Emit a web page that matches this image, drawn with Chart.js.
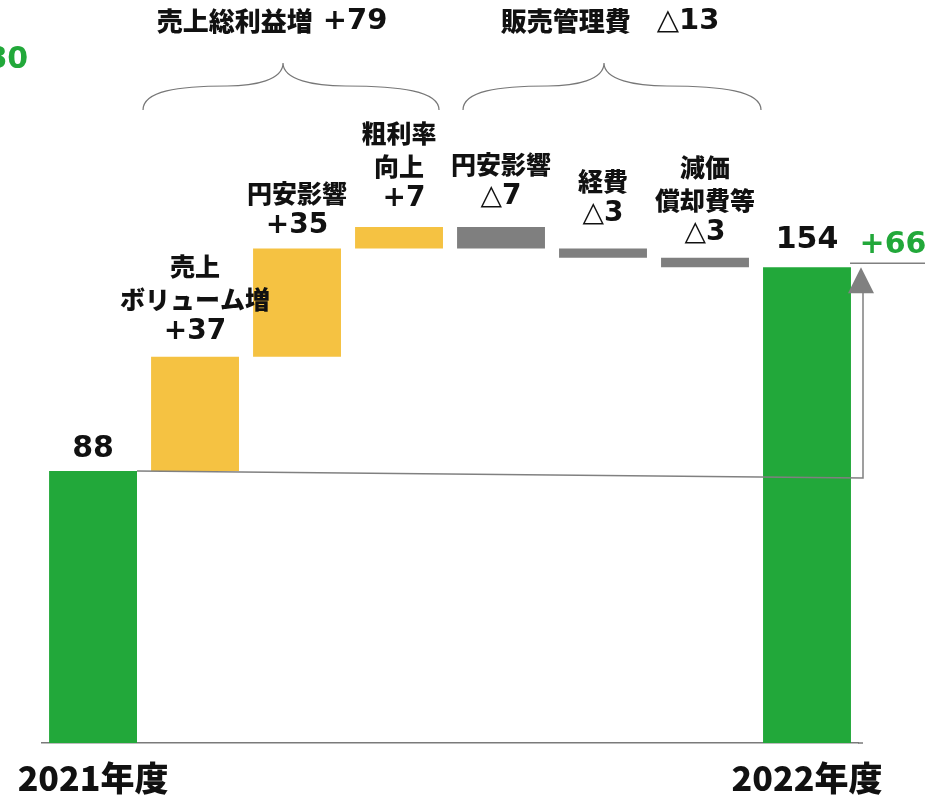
<!DOCTYPE html>
<html lang="ja">
<head>
<meta charset="utf-8"/>
<title>営業利益 増減要因</title>
<style>
  body { margin: 0; padding: 0; background: #fff; }
  #wrap { width: 929px; height: 797px; }
  canvas { display: block; }
</style>
</head>
<body>
<div id="wrap"><canvas id="chart" width="929" height="797"></canvas></div>
<script src="https://cdn.jsdelivr.net/npm/chart.js"></script>
<script>
// 値（億円）
const yearLabels = ["2021年度", "", "", "", "", "", "", "2022年度"];
const startValue = 88;
const endValue = 154;
const stepChanges = [37, 35, 7, -7, -3, -3];
const stepLabels = [
  ["売上", "ボリューム増", "+37"],
  ["円安影響", "+35"],
  ["粗利率", "向上", " +7"],
  ["円安影響", "△7"],
  ["経費", "△3"],
  ["減価", "償却費等", "△3"]
];
const groupTitles = ["売上総利益増 +79", "販売管理費　△13"];
const groupSpans = [[1, 3], [4, 6]];
const totalChange = "+66";
const cutNote = "+80";

const GREEN = "#22a83a", YELLOW = "#f5c242", GRAY = "#7f7f7f";

// 浮動バー（積み上げ）
let level = startValue;
const ranges = [[0, startValue]];
stepChanges.forEach(d => { ranges.push([level, level + d]); level += d; });
ranges.push([0, endValue]);
const barColors = ranges.map((r, i) =>
  (i === 0 || i === ranges.length - 1) ? GREEN : (r[1] > r[0] ? YELLOW : GRAY));

// 和文と数字でフォントを分けて中央揃えで描く
const runRe = /[\u3000-\u9fff\uff00-\uffef]+|[^\u3000-\u9fff\uff00-\uffef]+/g;
function drawMixed(ctx, t, cx, cy, jpSize, numSize) {
  const runs = t.match(runRe).map(s => ({
    s,
    font: /[\u3000-\u9fff\uff00-\uffef]/.test(s)
      ? `900 ${jpSize}px "Noto Sans CJK JP"`
      : `bold ${numSize}px "DejaVu Sans", "Noto Sans CJK JP"`
  }));
  let total = 0;
  runs.forEach(r => { ctx.font = r.font; r.w = ctx.measureText(r.s).width; total += r.w; });
  let x = cx - total / 2;
  ctx.textAlign = "left";
  runs.forEach(r => { ctx.font = r.font; ctx.fillText(r.s, x, cy); x += r.w; });
}

function drawBrace(ctx, l, r, tip, yTop, yBot) {
  const yMid = yTop + 23;
  const lw = tip - l, rw = r - tip;
  ctx.beginPath();
  ctx.moveTo(l, yBot);
  ctx.bezierCurveTo(l, yMid + 5, l + lw * 0.25, yMid, l + lw * 0.6, yMid);
  ctx.bezierCurveTo(tip - lw * 0.2, yMid, tip, yMid - 6, tip, yTop);
  ctx.bezierCurveTo(tip, yMid - 6, tip + rw * 0.2, yMid, r - rw * 0.6, yMid);
  ctx.bezierCurveTo(r - rw * 0.25, yMid, r, yMid + 5, r, yBot);
  ctx.stroke();
}

const annotations = {
  id: "annotations",
  afterDatasetsDraw(chart) {
    const ctx = chart.ctx;
    const meta = chart.getDatasetMeta(0);
    const xs = chart.scales.x, ys = chart.scales.y;
    const last = meta.data.length - 1;
    const labelGaps = [22, 25, 23, 28, 30, 35, 25, 27];
    ctx.save();
    ctx.textBaseline = "middle";

    // バー上のラベル
    meta.data.forEach((bar, i) => {
      const top = Math.min(bar.y, bar.base);
      ctx.fillStyle = "#111";
      if (i === 0 || i === last) {
        ctx.textAlign = "center";
        ctx.font = 'bold 30px "DejaVu Sans"';
        ctx.fillText(String(i === 0 ? startValue : endValue), bar.x, top - labelGaps[i]);
        return;
      }
      const lines = stepLabels[i - 1];
      lines.forEach((t, k) => {
        drawMixed(ctx, t, bar.x, top - labelGaps[i] - (lines.length - 1 - k) * 32.5, 25, 28);
      });
    });

    // 中括弧とグループ見出し
    const braceOffsets = [[-52, 40], [-38, 56]];
    const titleShift = [-11, 6];
    ctx.strokeStyle = "#777";
    ctx.lineWidth = 1.2;
    groupSpans.forEach((s, g) => {
      const l = xs.getPixelForValue(s[0]) + braceOffsets[g][0];
      const r = xs.getPixelForValue(s[1]) + braceOffsets[g][1];
      const tip = (l + r) / 2 - 8;
      drawBrace(ctx, l, r, tip, 63, 110);
      ctx.fillStyle = "#111";
      drawMixed(ctx, groupTitles[g], tip + titleShift[g], 21, 26, 29);
    });

    // 2021→2022 の増加矢印
    const b0 = meta.data[0];
    const x0 = b0.x + b0.width / 2;
    const xr = chart.chartArea.right + 5;
    const yStart = ys.getPixelForValue(startValue);
    const yEnd = ys.getPixelForValue(endValue);
    ctx.strokeStyle = "#808080";
    ctx.fillStyle = "#808080";
    ctx.lineWidth = 1.5;
    ctx.beginPath();
    ctx.moveTo(x0, yStart);
    ctx.lineTo(xr, yStart + 7);
    ctx.lineTo(xr, yEnd + 24);
    ctx.stroke();
    ctx.beginPath();
    ctx.moveTo(xr - 2, yEnd);
    ctx.lineTo(xr - 15, yEnd + 26);
    ctx.lineTo(xr + 11, yEnd + 26);
    ctx.closePath();
    ctx.fill();
    ctx.beginPath();
    ctx.moveTo(xr - 13, yEnd - 4);
    ctx.lineTo(xr + 62, yEnd - 4);
    ctx.stroke();
    // 軸線を矢印まで延長
    ctx.strokeStyle = "#7a7a7a";
    ctx.beginPath();
    ctx.moveTo(chart.chartArea.right, chart.chartArea.bottom);
    ctx.lineTo(xr, chart.chartArea.bottom);
    ctx.stroke();

    ctx.fillStyle = GREEN;
    ctx.textAlign = "center";
    ctx.font = 'bold 30px "DejaVu Sans"';
    ctx.fillText(totalChange, xr + 30, yEnd - 22);
    ctx.textAlign = "right";
    ctx.fillText(cutNote, 28, 60);
    ctx.restore();
  }
};

new Chart(document.getElementById("chart"), {
  type: "bar",
  data: {
    labels: yearLabels,
    datasets: [{
      data: ranges,
      backgroundColor: barColors,
      borderWidth: 0,
      borderSkipped: false,
      categoryPercentage: 1,
      barPercentage: 0.862
    }]
  },
  options: {
    responsive: false,
    animation: false,
    devicePixelRatio: 1,
    layout: { padding: { top: 125, left: 42, right: 71, bottom: 0 } },
    plugins: { legend: { display: false }, tooltip: { enabled: false } },
    scales: {
      x: {
        grid: { display: false, drawTicks: false },
        border: { display: true, color: "#7a7a7a", width: 1.5 },
        ticks: {
          autoSkip: false, maxRotation: 0, padding: 15,
          color: "#111",
          font: { family: '"Noto Sans CJK JP"', size: 34, weight: "900" }
        },
        afterFit(scale) { scale.height = 54; }
      },
      y: { display: false, min: 0, max: 200 }
    }
  },
  plugins: [annotations]
});
</script>
</body>
</html>
